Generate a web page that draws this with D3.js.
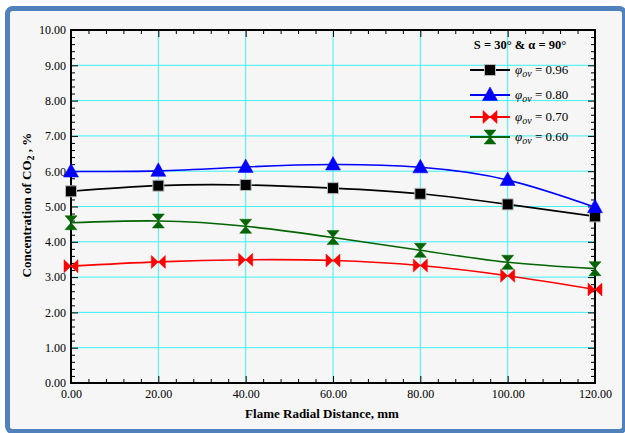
<!DOCTYPE html>
<html>
<head>
<meta charset="utf-8">
<script src="https://cdn.jsdelivr.net/npm/d3@7"></script>
<style>
  body { margin: 0; background: #fff; }
  text { font-family: "Liberation Serif", "Times New Roman", serif; }
</style>
</head>
<body>
<svg id="chart" width="625" height="433"></svg>
<script>
// values
var distance = [0, 20, 40, 60, 80, 100, 120];
var phi096 = [5.43, 5.59, 5.61, 5.52, 5.36, 5.06, 4.72];
var phi080 = [5.99, 6.01, 6.12, 6.19, 6.11, 5.75, 4.98];
var phi070 = [3.31, 3.43, 3.49, 3.47, 3.33, 3.04, 2.65];
var phi060 = [4.54, 4.59, 4.44, 4.12, 3.76, 3.42, 3.24];
var seriesNames = ["0.96", "0.80", "0.70", "0.60"];
var xTicks = [0, 20, 40, 60, 80, 100, 120];
var yTicks = [0, 1, 2, 3, 4, 5, 6, 7, 8, 9, 10];

var colors = {black: "#000000", blue: "#0000ff", red: "#ff0000", green: "#006400"};

var margin = {top: 30, right: 30, bottom: 50, left: 71},
    width = 595 - margin.left,
    height = 383 - margin.top;

var svg = d3.select("#chart");

// figure frame
svg.append("rect")
    .attr("x", 7.5)
    .attr("y", 8.5)
    .attr("width", 617)
    .attr("height", 423)
    .attr("rx", 5)
    .attr("fill", "#f6f6f6")
    .attr("stroke", "#4f81bd")
    .attr("stroke-width", 5);

var g = svg.append("g")
    .attr("transform", "translate(" + margin.left + "," + margin.top + ")");

var x = d3.scaleLinear().domain([0, 120]).range([0, width]);
var y = d3.scaleLinear().domain([0, 10]).range([height, 0]);

var fmt = d3.format(".2f");
var minorX = d3.range(0, 121, 4).filter(function(v){ return v % 20 != 0; });
var minorY = d3.range(0, 10.01, 0.2).map(function(v){ return +v.toFixed(1); })
    .filter(function(v){ return Math.abs(v - Math.round(v)) > 0.01; });

// grid
g.append("g").selectAll("line")
    .data(xTicks.slice(1, -1))
    .enter().append("line")
    .attr("x1", function(d){ return x(d); })
    .attr("x2", function(d){ return x(d); })
    .attr("y1", 0)
    .attr("y2", height)
    .attr("stroke", "#3ff0f4")
    .attr("stroke-width", 1);

g.append("g").selectAll("line")
    .data(yTicks.slice(1, -1))
    .enter().append("line")
    .attr("x1", 0)
    .attr("x2", width)
    .attr("y1", function(d){ return y(d); })
    .attr("y2", function(d){ return y(d); })
    .attr("stroke", "#3ff0f4")
    .attr("stroke-width", 1);

function styleAxis(sel){
  sel.select(".domain").remove();
  sel.selectAll(".tick line").attr("stroke", "#000").attr("stroke-width", 1);
  sel.selectAll("text")
      .attr("fill", "#000")
      .style("font-family", "'Liberation Serif', serif")
      .style("font-size", "12px");
}

// bottom axis with labels
g.append("g")
    .attr("transform", "translate(0," + height + ")")
    .call(d3.axisBottom(x).tickValues(xTicks).tickFormat(fmt).tickSizeInner(-7).tickSizeOuter(0).tickPadding(6))
    .call(styleAxis);
g.append("g")
    .attr("transform", "translate(0," + height + ")")
    .call(d3.axisBottom(x).tickValues(minorX).tickFormat("").tickSizeInner(-4).tickSizeOuter(0))
    .call(styleAxis);

// left axis with labels
g.append("g")
    .call(d3.axisLeft(y).tickValues(yTicks).tickFormat(fmt).tickSizeInner(-7).tickSizeOuter(0).tickPadding(5))
    .call(styleAxis);
g.append("g")
    .call(d3.axisLeft(y).tickValues(minorY).tickFormat("").tickSizeInner(-4).tickSizeOuter(0))
    .call(styleAxis);

// top and right, ticks only
g.append("g")
    .call(d3.axisTop(x).tickValues(xTicks).tickFormat("").tickSizeInner(-7).tickSizeOuter(0))
    .call(styleAxis);
g.append("g")
    .call(d3.axisTop(x).tickValues(minorX).tickFormat("").tickSizeInner(-4).tickSizeOuter(0))
    .call(styleAxis);
g.append("g")
    .attr("transform", "translate(" + width + ",0)")
    .call(d3.axisRight(y).tickValues(yTicks).tickFormat("").tickSizeInner(-7).tickSizeOuter(0))
    .call(styleAxis);
g.append("g")
    .attr("transform", "translate(" + width + ",0)")
    .call(d3.axisRight(y).tickValues(minorY).tickFormat("").tickSizeInner(-4).tickSizeOuter(0))
    .call(styleAxis);

// plot border
g.append("rect")
    .attr("width", width)
    .attr("height", height)
    .attr("fill", "none")
    .attr("stroke", "#000")
    .attr("stroke-width", 2);

// marker shapes
var shapes = {
  square: "M-5.5,-5.5L5.5,-5.5L5.5,5.5L-5.5,5.5Z",
  triangle: "M0,-8L7.5,5.5L-7.5,5.5Z",
  bowtie: "M-7,-6.5L0,0L-7,6.5ZM7,-6.5L0,0L7,6.5Z",
  hourglass: "M-6,-7L6,-7L0,0ZM-6,7L6,7L0,0Z"
};

var series = [
  {name: seriesNames[0], values: phi096, color: colors.black, shape: "square"},
  {name: seriesNames[1], values: phi080, color: colors.blue, shape: "triangle"},
  {name: seriesNames[2], values: phi070, color: colors.red, shape: "bowtie"},
  {name: seriesNames[3], values: phi060, color: colors.green, shape: "hourglass"}
];

var line = d3.line()
    .x(function(d){ return x(d[0]); })
    .y(function(d){ return y(d[1]); })
    .curve(d3.curveNatural);

series.forEach(function(s){
  var pts = distance.map(function(d, i){ return [d, s.values[i]]; });
  g.append("path")
      .datum(pts)
      .attr("d", line)
      .attr("fill", "none")
      .attr("stroke", s.color)
      .attr("stroke-width", 1.6);
  g.append("g").selectAll("path")
      .data(pts)
      .enter().append("path")
      .attr("d", shapes[s.shape])
      .attr("transform", function(d){ return "translate(" + x(d[0]) + "," + y(d[1]) + ")"; })
      .attr("fill", s.color)
      .attr("stroke", s.shape == "square" ? "#bbb" : s.color)
      .attr("stroke-width", s.shape == "square" ? 1 : 0.5);
});

// legend
svg.append("text")
    .attr("x", 520)
    .attr("y", 49)
    .attr("text-anchor", "middle")
    .attr("font-weight", "bold")
    .attr("font-size", "12.5px")
    .text("S = 30° & α = 90°");

var legY = [70, 95, 117, 137];
series.forEach(function(s, i){
  var lg = svg.append("g").attr("transform", "translate(0," + legY[i] + ")");
  lg.append("line")
      .attr("x1", 470).attr("x2", 510)
      .attr("y1", 0).attr("y2", 0)
      .attr("stroke", s.color)
      .attr("stroke-width", 1.8);
  lg.append("path")
      .attr("d", shapes[s.shape])
      .attr("transform", "translate(490,0)")
      .attr("fill", s.color)
      .attr("stroke", s.shape == "square" ? "#bbb" : s.color)
      .attr("stroke-width", s.shape == "square" ? 1 : 0.5);
  var t = lg.append("text")
      .attr("x", 515)
      .attr("y", 4)
      .attr("font-size", "13px");
  t.append("tspan").attr("font-style", "italic").text("φ");
  t.append("tspan").attr("font-style", "italic").attr("font-size", "10px").attr("dy", 3).text("ov");
  t.append("tspan").attr("dy", -3).text(" = " + s.name);
});

// axis titles
svg.append("text")
    .attr("x", 322)
    .attr("y", 418)
    .attr("text-anchor", "middle")
    .attr("font-weight", "bold")
    .attr("font-size", "13px")
    .text("Flame Radial Distance, mm");

var yt = svg.append("text")
    .attr("transform", "translate(31,205) rotate(-90)")
    .attr("text-anchor", "middle")
    .attr("font-weight", "bold")
    .attr("font-size", "13px");
yt.append("tspan").text("Concentration of CO");
yt.append("tspan").attr("font-size", "10px").attr("dy", 3).text("2");
yt.append("tspan").attr("dy", -3).text(" , %");
</script>
</body>
</html>
